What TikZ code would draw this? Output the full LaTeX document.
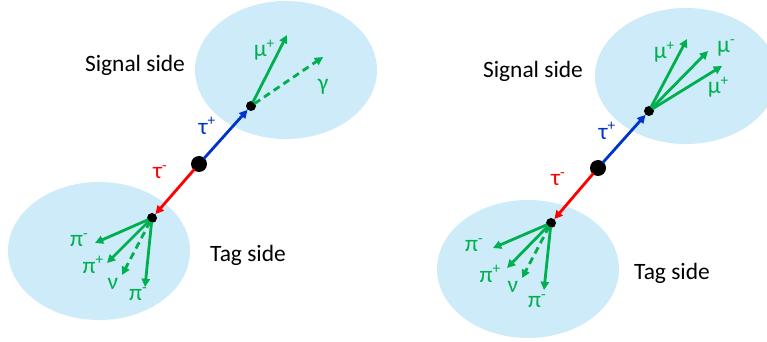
\documentclass[tikz,border=0pt]{standalone}
\usepackage{fontspec}
\setmainfont{Carlito}
\usetikzlibrary{arrows.meta}
\definecolor{bubble}{RGB}{205,235,248}
\definecolor{pgreen}{RGB}{0,176,80}
\definecolor{pblue}{RGB}{0,51,204}
\definecolor{pred}{RGB}{255,0,0}
\newcommand{\ptcl}[2]{#1\raisebox{0.75ex}{\scalebox{0.65}{#2}}}
\tikzset{
  bigdot/.style={circle,fill=black,inner sep=0pt,minimum size=4.8mm},
  vtx/.style={circle,fill=black,inner sep=0pt,minimum size=3mm},
  trk/.style={line width=2.4pt,-{Triangle[length=7pt,width=7pt]},shorten <=-1pt},
  dtrk/.style={trk,dash pattern=on 6pt off 4pt},
  lbl/.style={text=pgreen,inner sep=0pt},
  side/.style={inner sep=0pt}
}
\begin{document}
\begin{tikzpicture}[x=0.3mm,y=-0.3mm,font=\fontsize{20}{24}\selectfont]
\useasboundingbox (0,0) rectangle (767,342);
% left event
\fill[bubble] (286,70) ellipse [x radius=91,y radius=69];
\fill[bubble] (99,251) ellipse [x radius=91,y radius=69];
\node[bigdot] (ipA) at (199,164) {};
\node[vtx] (sigA) at (251,106) {};
\node[vtx] (tagA) at (152,218) {};
\draw[trk,pblue] (ipA) -- (sigA);
\draw[trk,pred] (ipA) -- (tagA);
\node[side] (sigtxtA) at (135,65) {Signal side};
\node[side] (tagtxtA) at (248,255) {Tag side};
\node[text=pblue,inner sep=0pt] (tpA) at (207,126) {\ptcl{τ}{+}};
\node[text=pred,inner sep=0pt] (tmA) at (160,172) {\ptcl{τ}{-}};
\coordinate (muA) at (287,35);
\coordinate (gamA) at (323,57);
\draw[trk,pgreen] (sigA) -- (muA);
\draw[dtrk,pgreen] (sigA) -- (gamA);
\node[lbl] (muAl) at (264,50) {\ptcl{μ}{+}};
\node[lbl] (gamAl) at (323,87) {γ};
\coordinate (p1A) at (95,243);
\coordinate (p2A) at (107,263);
\coordinate (nuA) at (122,275);
\coordinate (p3A) at (145,287);
\draw[trk,pgreen] (tagA) -- (p1A);
\draw[trk,pgreen] (tagA) -- (p2A);
\draw[dtrk,pgreen] (tagA) -- (nuA);
\draw[trk,pgreen] (tagA) -- (p3A);
\node[lbl] (p1Al) at (79,240) {\ptcl{π}{-}};
\node[lbl] (p2Al) at (93,265) {\ptcl{π}{+}};
\node[lbl] (nuAl) at (113,284) {ν};
\node[lbl] (p3Al) at (138,294) {\ptcl{π}{-}};
% right event
\fill[bubble] (686,76) ellipse [x radius=91,y radius=68];
\fill[bubble] (528,269) ellipse [x radius=91,y radius=69];
\node[bigdot] (ipB) at (598,168) {};
\node[vtx] (sigB) at (649,111) {};
\node[vtx] (tagB) at (551,223) {};
\draw[trk,pblue] (ipB) -- (sigB);
\draw[trk,pred] (ipB) -- (tagB);
\node[side] (sigtxtB) at (533,71) {Signal side};
\node[side] (tagtxtB) at (672,273) {Tag side};
\node[text=pblue,inner sep=0pt] (tpB) at (607,131) {\ptcl{τ}{+}};
\node[text=pred,inner sep=0pt] (tmB) at (558,179) {\ptcl{τ}{-}};
\coordinate (mu1B) at (687,39);
\coordinate (mu2B) at (708,51);
\coordinate (mu3B) at (722,66);
\draw[trk,pgreen] (sigB) -- (mu1B);
\draw[trk,pgreen] (sigB) -- (mu2B);
\draw[trk,pgreen] (sigB) -- (mu3B);
\node[lbl] (mu1Bl) at (664,52) {\ptcl{μ}{+}};
\node[lbl] (mu2Bl) at (726,48) {\ptcl{μ}{-}};
\node[lbl] (mu3Bl) at (718,87) {\ptcl{μ}{+}};
\coordinate (p1B) at (493,248);
\coordinate (p2B) at (507,268);
\coordinate (nuB) at (522,278);
\coordinate (p3B) at (544,290);
\draw[trk,pgreen] (tagB) -- (p1B);
\draw[trk,pgreen] (tagB) -- (p2B);
\draw[dtrk,pgreen] (tagB) -- (nuB);
\draw[trk,pgreen] (tagB) -- (p3B);
\node[lbl] (p1Bl) at (474,245) {\ptcl{π}{-}};
\node[lbl] (p2Bl) at (490,274) {\ptcl{π}{+}};
\node[lbl] (nuBl) at (513,287) {ν};
\node[lbl] (p3Bl) at (537,301) {\ptcl{π}{-}};
\end{tikzpicture}
\end{document}
